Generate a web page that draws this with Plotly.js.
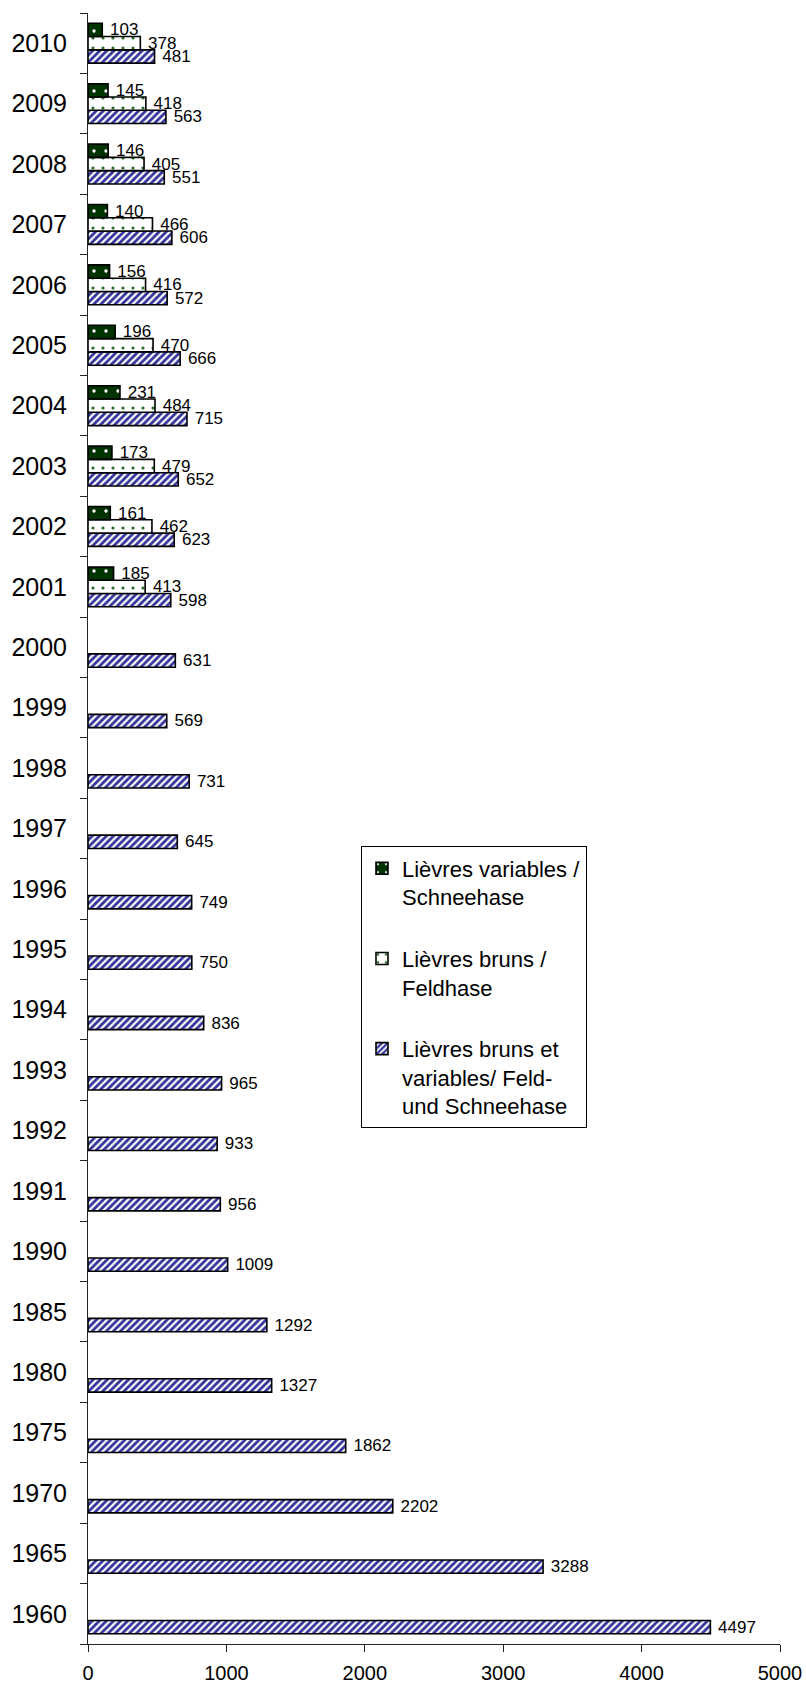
<!DOCTYPE html>
<html>
<head>
<meta charset="utf-8">
<script src="https://cdn.plot.ly/plotly-3.0.1.min.js"></script>
<style>html,body{margin:0;padding:0;background:#fff;}#chart{width:806px;height:1685px;}</style>
</head>
<body>
<div id="chart"></div>
<script>
const years = ['1960','1965','1970','1975','1980','1985','1990','1991','1992','1993','1994','1995','1996','1997','1998','1999','2000','2001','2002','2003','2004','2005','2006','2007','2008','2009','2010'];
const combined = [4497,3288,2202,1862,1327,1292,1009,956,933,965,836,750,749,645,731,569,631,598,623,652,715,666,572,606,551,563,481];
const brown = [null,null,null,null,null,null,null,null,null,null,null,null,null,null,null,null,null,413,462,479,484,470,416,466,405,418,378];
const variable = [null,null,null,null,null,null,null,null,null,null,null,null,null,null,null,null,null,185,161,173,231,196,156,140,146,145,103];
const seriesNames = ['Lièvres bruns et<br>variables/ Feld-<br>und Schneehase','Lièvres bruns /<br>Feldhase','Lièvres variables /<br>Schneehase'];
const xTicks = [0,1000,2000,3000,4000,5000];

const FONT = 'Liberation Sans, Arial, sans-serif';
const common = {
  type: 'bar', orientation: 'h', y: years,
  texttemplate: '\u00a0%{x}', textposition: 'outside', textangle: 0,
  constraintext: 'none', cliponaxis: false,
  textfont: {family: FONT, size: 17, color: '#000'},
  hoverinfo: 'x+y'
};
const traces = [
  Object.assign({}, common, {
    x: combined, name: seriesNames[0], legendgroup: 'c', legendrank: 3,
    marker: {color: '#333399', line: {color: '#000', width: 1.6},
      pattern: {shape: '/', fgcolor: '#333399', bgcolor: '#ffffff', size: 5, solidity: 0.55}}
  }),
  Object.assign({}, common, {
    x: brown, name: seriesNames[1], legendgroup: 'b', legendrank: 2,
    marker: {color: '#ffffff', line: {color: '#000', width: 1.6},
      pattern: {shape: '.', fgcolor: '#2a6a2a', bgcolor: '#ffffff', size: 10, solidity: 0.08}}
  }),
  Object.assign({}, common, {
    x: variable, name: seriesNames[2], legendgroup: 'a', legendrank: 1,
    marker: {color: '#003300', line: {color: '#000', width: 1.6},
      pattern: {shape: '.', fgcolor: '#ffffff', bgcolor: '#003300', size: 12, solidity: 0.06}}
  })
];

const layout = {
  width: 806, height: 1685,
  margin: {l: 88, r: 26, t: 13, b: 41, pad: 0},
  paper_bgcolor: '#fff', plot_bgcolor: '#fff',
  font: {family: FONT, color: '#000'},
  barmode: 'group', bargap: 0.34, bargroupgap: 0,
  showlegend: true,
  legend: {
    x: 0.3945, xanchor: 'left', y: 0.489, yanchor: 'top',
    traceorder: 'grouped', tracegroupgap: 30, valign: 'top',
    bordercolor: '#000', borderwidth: 1, bgcolor: '#fff',
    font: {family: FONT, size: 22, color: '#000'}
  },
  xaxis: {
    range: [0, 5000], tickvals: xTicks, ticktext: xTicks.map(String),
    ticks: 'outside', ticklen: 7, tickwidth: 1, tickcolor: '#222',
    showline: true, linecolor: '#222', linewidth: 1,
    showgrid: false, zeroline: false,
    tickfont: {family: FONT, size: 20, color: '#000'},
    ticklabelstandoff: 4, fixedrange: true
  },
  yaxis: {
    type: 'category', categoryorder: 'array', categoryarray: years,
    tickson: 'boundaries', ticks: 'outside', ticklen: 7, tickwidth: 1, tickcolor: '#222',
    showline: true, linecolor: '#222', linewidth: 1,
    showgrid: false, zeroline: false,
    tickfont: {family: FONT, size: 25, color: '#000'},
    ticklabelstandoff: 15, fixedrange: true
  }
};

Plotly.newPlot('chart', traces, layout, {displayModeBar: false, staticPlot: true});
</script>
</body>
</html>
